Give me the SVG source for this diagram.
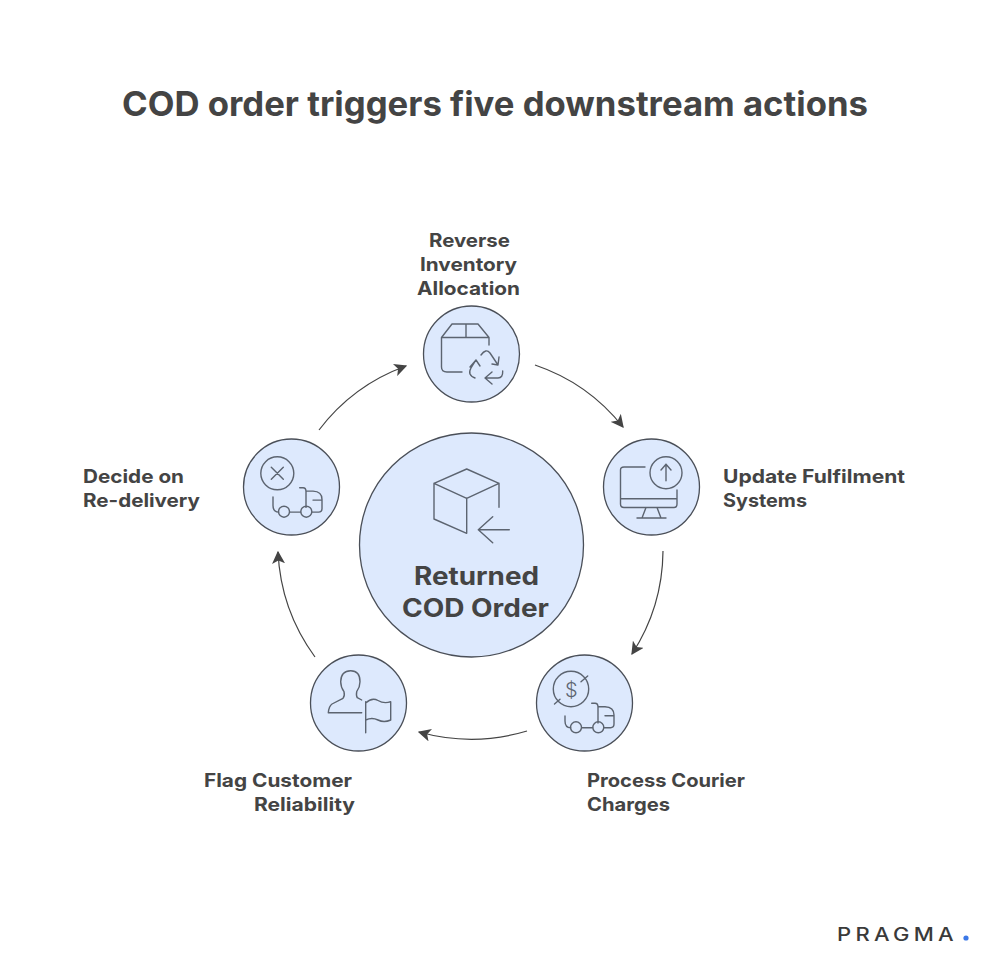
<svg xmlns="http://www.w3.org/2000/svg" width="992" height="958" viewBox="0 0 992 958">
<style>
text{font-family:"Inter","Liberation Sans",sans-serif;fill:#444444;font-weight:700}
.title{font-size:34px}
.lab{font-size:18.5px}
.hub{font-size:25px}
.node{fill:#dde9fd;stroke:#4a4f58;stroke-width:1.3}
.ic{fill:none;stroke:#5c6470;stroke-width:1.4;stroke-linecap:round;stroke-linejoin:round}
.con{fill:none;stroke:#444444;stroke-width:1.2;marker-end:url(#arr)}
</style>
<defs>
<marker id="arr" viewBox="0 0 10 10" refX="9" refY="5" markerWidth="13" markerHeight="13" markerUnits="userSpaceOnUse" orient="auto"><path d="M0 0L10 5L0 10L2.5 5Z" fill="#444444"/></marker>
</defs>
<rect width="992" height="958" fill="#ffffff"/>
<text id="title" class="title" x="122" y="116" textLength="746" lengthAdjust="spacingAndGlyphs">COD order triggers five downstream actions</text>
<g id="connectors">
<path class="con" d="M535 365A190 190 0 0 1 623 427"/>
<path class="con" d="M663 551A192 192 0 0 1 632 654"/>
<path class="con" d="M527 731A195 195 0 0 1 419 732"/>
<path class="con" d="M315 657A193 193 0 0 1 278 552"/>
<path class="con" d="M319 430A190 190 0 0 1 406 366"/>
</g>
<g id="hub">
<circle class="node" cx="471.5" cy="545" r="112"/>
<path class="ic" d="M466.7 469L499 483.3L466.7 498.3L434 483.3ZM434 483.3V519L466.7 533.3V498.3M499 483.3V507.3M509.3 529.7H478.3M492.7 516.7L478.3 529.7L492.7 542.7"/>
<text class="hub" x="414" y="585" textLength="125" lengthAdjust="spacingAndGlyphs">Returned</text>
<text class="hub" x="402" y="617" textLength="147" lengthAdjust="spacingAndGlyphs">COD Order</text>
</g>
<g id="node-reverse">
<circle class="node" cx="471.5" cy="354" r="48"/>
<path class="ic" d="M441.5 337.5L452 324H478L489 337.5ZM466 324V337.5M441.5 337.5V367Q441.5 372 447 372H462M489 337.5V345M481 355Q486 348 490 353L498 365M492 364L498 365L499 357M502.7 371Q503 378 498 378H485M492 372L485 378L492 384M475 378Q467 375 471 368L476 360M470 367L476 360L480 366"/>
<text class="lab" x="429" y="247" textLength="81" lengthAdjust="spacingAndGlyphs">Reverse</text>
<text class="lab" x="420" y="271" textLength="97" lengthAdjust="spacingAndGlyphs">Inventory</text>
<text class="lab" x="417" y="295" textLength="103" lengthAdjust="spacingAndGlyphs">Allocation</text>
</g>
<g id="node-update">
<circle class="node" cx="651.5" cy="487" r="48"/>
<path class="ic" d="M645 467H624Q620.5 467 620.5 470V504Q620.5 507.5 624 507.5H674Q677 507.5 677 504V490M620.5 498.7H677M646 507.5L642 518M657 507.5L661 518M637 518H666M666 480.7V464.3M661 470L666 464.3L671 470"/>
<circle class="ic" cx="666" cy="472.7" r="16"/>
<text class="lab" x="723" y="483" textLength="182" lengthAdjust="spacingAndGlyphs">Update Fulfilment</text>
<text class="lab" x="723" y="507" textLength="84" lengthAdjust="spacingAndGlyphs">Systems</text>
</g>
<g id="node-process">
<circle class="node" cx="584.5" cy="703" r="48"/>
<circle class="ic" cx="571" cy="689" r="17.7"/>
<path class="ic" d="M581 681.7L587.7 676M560 699.3L554.5 704M591.7 703.3H595Q598 703.3 598 707V723M598 706.7H605Q614 707 614 715V724Q614 727.7 610.5 727.7H604M605 715.7H614M581.7 727.7H592.7M565 716V721Q565 727.7 570.7 727.7"/>
<circle class="ic" cx="576" cy="727.3" r="5.5"/>
<circle class="ic" cx="598.3" cy="727.3" r="5.5"/>
<text x="565" y="696.5" style="font-size:20px;font-weight:300;fill:#5c6470">$</text>
<text class="lab" x="587" y="787" textLength="158" lengthAdjust="spacingAndGlyphs">Process Courier</text>
<text class="lab" x="587" y="811" textLength="83" lengthAdjust="spacingAndGlyphs">Charges</text>
</g>
<g id="node-flag">
<circle class="node" cx="358.5" cy="703" r="48"/>
<path class="ic" d="M328.3 712.7H361.7M328.3 712.7Q329 706 332 704L343 698.3Q345 696 344 691.7Q340.7 687 340.7 681.7Q341 670.7 350.7 670.7Q360 670.7 360 681.7Q360 687 356.7 691.7Q356 696 357.3 697.7L361.7 700M365.7 701.7V732.7M365.7 703Q372 697 378 700.5T390.7 701.7V720Q384 723 378 720T365.7 720"/>
<text class="lab" x="204" y="787" textLength="148" lengthAdjust="spacingAndGlyphs">Flag Customer</text>
<text class="lab" x="254" y="811" textLength="101" lengthAdjust="spacingAndGlyphs">Reliability</text>
</g>
<g id="node-decide">
<circle class="node" cx="291.5" cy="487" r="48"/>
<circle class="ic" cx="277.3" cy="473.3" r="16.5"/>
<path class="ic" d="M271.3 467.3L283.3 479.3M283.3 467.3L271.3 479.3M299.7 487.7H303Q306 487.7 306 491.4V507.4M306 491.1H313Q322 491.4 322 499.4V508.4Q322 512.1 318.5 512.1H312M313 500.1H322M289.7 512.1H300.7M273 497V505.4Q273 512.1 278.7 512.1"/>
<circle class="ic" cx="284" cy="511.7" r="5.5"/>
<circle class="ic" cx="306.3" cy="511.7" r="5.5"/>
<text class="lab" x="83" y="483" textLength="101" lengthAdjust="spacingAndGlyphs">Decide on</text>
<text class="lab" x="83" y="507" textLength="117" lengthAdjust="spacingAndGlyphs">Re-delivery</text>
</g>
<g id="logo">
<text x="837" y="941" textLength="121" lengthAdjust="spacingAndGlyphs" style="font-size:18px;font-weight:500;letter-spacing:3.5px;fill:#3a3a3a">PRAGMA</text>
<circle cx="966" cy="938" r="2.6" fill="#3b78e7"/>
</g>
</svg>
